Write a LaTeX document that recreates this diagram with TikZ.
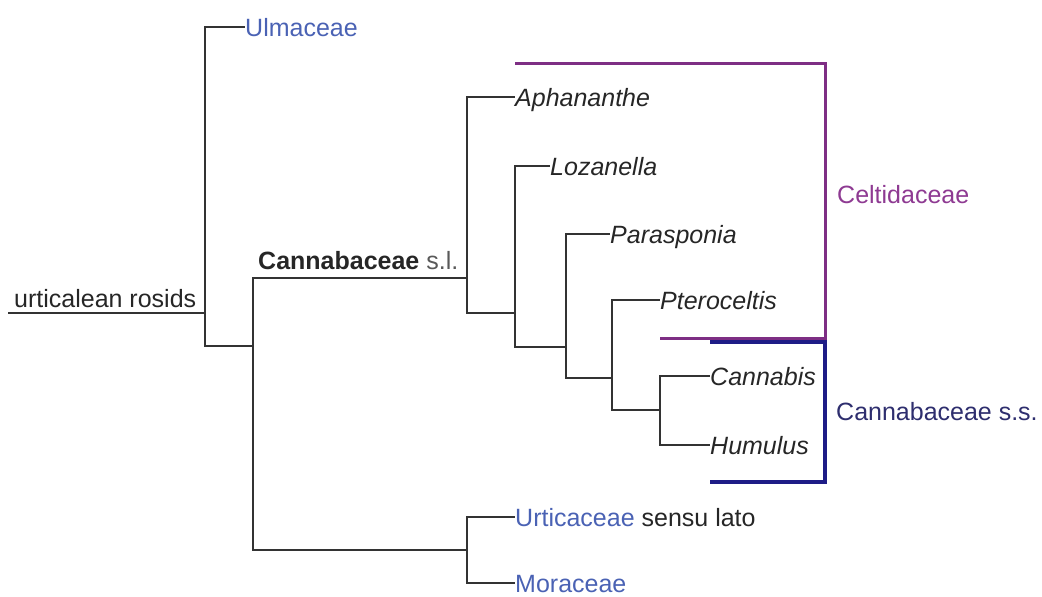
\documentclass[tikz,border=0pt]{standalone}
\usepackage{fontspec}
\setmainfont{Liberation Sans}
\definecolor{tree}{HTML}{333333}
\definecolor{famblue}{HTML}{4A62B4}
\definecolor{celt}{HTML}{7E2E84}
\definecolor{celttext}{HTML}{8E3A92}
\definecolor{navy}{HTML}{1E1C86}
\definecolor{navytext}{HTML}{2E2E6E}
\begin{document}
\begin{tikzpicture}[x=1pt,y=-1pt,
  branch/.style={draw=tree,line width=1.4pt},
  lab/.style={anchor=base west,inner sep=0pt,font=\fontsize{25}{30}\selectfont,text=black!85},
  genus/.style={lab,font=\fontsize{25}{30}\selectfont\itshape},
  fam/.style={lab,text=famblue},
  bracketp/.style={draw=celt,line width=3pt},
  bracketn/.style={draw=navy,line width=3.6pt}]
\useasboundingbox (0,0) rectangle (1042,597);
% internal nodes and tips
\coordinate (r0) at (8,313);
\coordinate (n1) at (205,313);
\coordinate (tulm) at (245,27);
\coordinate (n2) at (205,346);
\coordinate (n2b) at (253,346);
\coordinate (n3) at (467,278);
\coordinate (taph) at (515,97);
\coordinate (n4) at (515,313);
\coordinate (tloz) at (550,166);
\coordinate (n5) at (566,347);
\coordinate (tpar) at (610,234);
\coordinate (n6) at (612,378);
\coordinate (tpte) at (660,300);
\coordinate (n7) at (660,410);
\coordinate (tcan) at (710,376);
\coordinate (thum) at (710,445);
\coordinate (n8) at (467,550);
\coordinate (turt) at (515,517);
\coordinate (tmor) at (515,583);
% tree
\draw[branch] (r0) -- (n1);
\draw[branch] (n1) |- (tulm);
\draw[branch] (n1) -- (n2) -- (n2b);
\draw[branch] (n2b) |- (n3);
\draw[branch] (n2b) |- (n8);
\draw[branch] (n3) |- (taph);
\draw[branch] (n3) |- (n4);
\draw[branch] (n4) |- (tloz);
\draw[branch] (n4) |- (n5);
\draw[branch] (n5) |- (tpar);
\draw[branch] (n5) |- (n6);
\draw[branch] (n6) |- (tpte);
\draw[branch] (n6) |- (n7);
\draw[branch] (n7) |- (tcan);
\draw[branch] (n7) |- (thum);
\draw[branch] (n8) |- (turt);
\draw[branch] (n8) |- (tmor);
% labels
\node[lab] (lroot) at (14,307) {urticalean rosids};
\node[lab] (lsl) at (258,269) {\textbf{Cannabaceae} \textcolor{black!65}{s.l.}};
\node[fam] (lulm) at ([yshift=-9pt]tulm) {Ulmaceae};
\node[genus] (laph) at ([yshift=-9pt]taph) {Aphananthe};
\node[genus] (lloz) at ([yshift=-9pt]tloz) {Lozanella};
\node[genus] (lpar) at ([yshift=-9pt]tpar) {Parasponia};
\node[genus] (lpte) at ([yshift=-9pt]tpte) {Pteroceltis};
\node[genus] (lcan) at ([yshift=-9pt]tcan) {Cannabis};
\node[genus] (lhum) at ([yshift=-9pt]thum) {Humulus};
\node[fam] (lurt) at ([yshift=-9pt]turt) {Urticaceae \textcolor{black!85}{sensu lato}};
\node[fam] (lmor) at ([yshift=-9pt]tmor) {Moraceae};
% brackets
\coordinate (cA) at (515,63);
\coordinate (cB) at (825,63);
\coordinate (cC) at (825,338);
\coordinate (cD) at (660,338);
\draw[bracketp] (cA) -- (cB) -- (cC) -- (cD);
\coordinate (sA) at (710,342);
\coordinate (sB) at (825,342);
\coordinate (sC) at (825,482);
\coordinate (sD) at (710,482);
\draw[bracketn] (sA) -- (sB) -- (sC) -- (sD);
\node[lab,text=celttext] (lcelt) at (837,203) {Celtidaceae};
\node[lab,text=navytext] (lcss) at (836,420) {Cannabaceae s.s.};
\end{tikzpicture}
\end{document}
